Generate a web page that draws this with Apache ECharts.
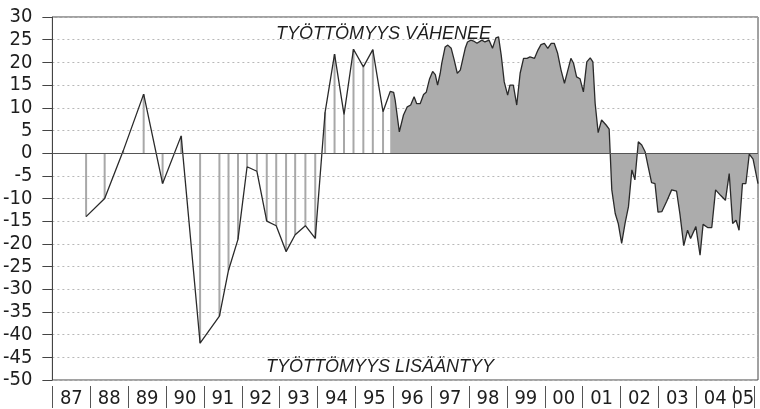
<!DOCTYPE html>
<html>
<head>
<meta charset="utf-8">
<script src="https://cdn.jsdelivr.net/npm/echarts@6/dist/echarts.min.js"></script>
<style>
  html, body { margin: 0; padding: 0; background: #fff; }
  #chart { width: 760px; height: 409px; }
</style>
</head>
<body>
<div id="chart"></div>
<script>
// puolivuosi- ja neljännesvuosipisteet 87-95 (pystyviivat)
const sparseYears = [1987.89, 1988.38, 1988.87, 1989.41, 1989.91, 1990.40, 1990.90, 1991.41,
  1991.65, 1991.90, 1992.14, 1992.40, 1992.66, 1992.91, 1993.17, 1993.41, 1993.68, 1993.94,
  1994.20, 1994.45, 1994.70, 1994.95, 1995.21, 1995.46, 1995.73]
const sparseValues = [-14, -10, 0.5, 13, -6.7, 3.8, -41.9, -35.9,
  -25.8, -19, -3, -4, -15, -16, -21.7, -18, -16, -18.8,
  9, 21.8, 8.5, 22.9, 19, 22.8, 9.1]

// kuukausipisteet 96-05 (täytetty alue)
const denseYears = [1995.92, 1996.01, 1996.05, 1996.16, 1996.27, 1996.37, 1996.46, 1996.55, 1996.62, 1996.71,
  1996.80, 1996.87, 1996.96, 1997.04, 1997.11, 1997.17, 1997.24, 1997.28, 1997.37, 1997.44,
  1997.53, 1997.61, 1997.69, 1997.77, 1997.84, 1997.90, 1997.96, 1998.05, 1998.12, 1998.21,
  1998.34, 1998.42, 1998.53, 1998.62, 1998.71, 1998.78, 1998.85, 1998.93, 1999.02, 1999.08,
  1999.17, 1999.26, 1999.35, 1999.44, 1999.53, 1999.61, 1999.73, 1999.82, 1999.90, 1999.99,
  2000.08, 2000.17, 2000.25, 2000.34, 2000.43, 2000.52, 2000.61, 2000.69, 2000.76, 2000.84,
  2000.93, 2001.02, 2001.11, 2001.20, 2001.27, 2001.33, 2001.41, 2001.50, 2001.62, 2001.70,
  2001.77, 2001.86, 2001.94, 2002.03, 2002.12, 2002.21, 2002.30, 2002.38, 2002.47, 2002.56,
  2002.65, 2002.73, 2002.82, 2002.91, 2002.99, 2003.09, 2003.22, 2003.35, 2003.48, 2003.57,
  2003.67, 2003.77, 2003.85, 2003.99, 2004.10, 2004.18, 2004.30, 2004.41, 2004.51, 2004.64,
  2004.77, 2004.87, 2004.96, 2005.05, 2005.13, 2005.22, 2005.31, 2005.40, 2005.50, 2005.63]
const denseValues = [13.6, 13.4, 11.7, 4.7, 8.4, 10.2, 10.6, 12.4, 10.9, 10.9,
  12.9, 13.4, 16.4, 18, 17.3, 15, 17.6, 19.8, 23.4, 23.8,
  23.1, 20.5, 17.6, 18.3, 20.9, 23.1, 24.5, 24.9, 24.7, 24.2,
  24.9, 24.5, 24.9, 23.1, 25.4, 25.6, 21.6, 15.7, 12.8, 15,
  15, 10.6, 17.6, 20.9, 20.9, 21.2, 20.9, 22.7, 23.9, 24.2,
  23.1, 24.2, 24.2, 22, 18.3, 15.4, 18.3, 20.9, 19.8, 16.8,
  16.4, 13.5, 20.1, 21, 20.1, 11, 4.5, 7.3, 6.2, 5.3,
  -8.1, -13.3, -15.5, -19.9, -15.5, -11.8, -3.7, -5.9, 2.5, 1.8,
  0.3, -3, -6.5, -6.7, -13, -12.9, -10.6, -8.1, -8.4, -13.5,
  -20.4, -17, -18.8, -16.2, -22.5, -15.7, -16.4, -16.4, -8.1, -9.3,
  -10.4, -4.5, -15.5, -14.8, -17, -6.7, -6.7, -0.2, -1.3, -6.7]

// vuosierottimet ja vuosinimikkeiden paikat
const yearTicks = [1987, 1988, 1989, 1990, 1991, 1992, 1993, 1994, 1995, 1996, 1997, 1998,
  1999, 2000, 2001, 2002, 2003, 2004, 2005, 2005.52]
const yearLabelPos = [1987.5, 1988.5, 1989.5, 1990.5, 1991.5, 1992.5, 1993.5, 1994.5, 1995.5,
  1996.5, 1997.5, 1998.5, 1999.5, 2000.5, 2001.5, 2002.5, 2003.5, 2004.5, 2005.23]

const xMin = 1987
const xMax = 2005.63
const numFont = '"Liberation Sans Narrow", "DejaVu Sans Condensed", sans-serif'
const textFont = '"Liberation Sans", Arial, sans-serif'

const sparseData = sparseYears.map((x, i) => [x, sparseValues[i]])
const denseData = denseYears.map((x, i) => [x, denseValues[i]])

const myChart = echarts.init(document.getElementById('chart'))
let option = {
  animation: false,
  grid: {
    left: 52,
    right: 2,
    top: 17,
    bottom: 29,
    show: true,
    borderColor: '#444',
    borderWidth: 1
  },
  xAxis: [
    {
      type: 'value',
      min: xMin,
      max: xMax,
      axisLine: { show: false },
      axisTick: { show: false },
      axisLabel: { show: false },
      splitLine: { show: false }
    },
    {
      type: 'value',
      min: xMin,
      max: xMax,
      position: 'bottom',
      offset: 6,
      axisLine: { show: false },
      splitLine: { show: false },
      axisTick: {
        show: true,
        length: 22,
        customValues: yearTicks,
        lineStyle: { color: '#555', width: 1 }
      },
      axisLabel: {
        show: true,
        customValues: yearLabelPos,
        margin: 3,
        fontFamily: numFont,
        fontSize: 20,
        color: '#1e1e1e',
        formatter: v => String(Math.floor(v) % 100).padStart(2, '0')
      }
    }
  ],
  yAxis: {
    type: 'value',
    min: -50,
    max: 30,
    interval: 5,
    axisLine: { show: true, lineStyle: { color: '#444', width: 1 } },
    axisTick: { show: true, length: 10, lineStyle: { color: '#444' } },
    axisLabel: {
      margin: 20,
      fontFamily: numFont,
      fontSize: 20,
      color: '#1e1e1e'
    },
    splitLine: {
      show: true,
      lineStyle: { color: '#b8b8b8', type: [2, 3], width: 1 }
    }
  },
  graphic: [
    {
      type: 'text',
      left: 276,
      top: 25,
      style: {
        text: 'TYÖTTÖMYYS VÄHENEE',
        font: 'italic 18px ' + textFont,
        fill: '#1e1e1e'
      }
    },
    {
      type: 'text',
      left: 266,
      top: 358,
      style: {
        text: 'TYÖTTÖMYYS LISÄÄNTYY',
        font: 'italic 18px ' + textFont,
        fill: '#1e1e1e'
      }
    }
  ],
  series: [
    {
      type: 'bar',
      data: sparseData,
      barWidth: 2,
      itemStyle: { color: '#a8a8a8' },
      silent: true
    },
    {
      type: 'line',
      data: denseData,
      showSymbol: false,
      lineStyle: { width: 0 },
      areaStyle: { color: '#acacac', opacity: 1 },
      silent: true
    },
    {
      type: 'line',
      data: sparseData.concat(denseData),
      showSymbol: false,
      lineStyle: { color: '#2a2a2a', width: 1.3 },
      silent: true,
      markLine: {
        silent: true,
        symbol: 'none',
        label: { show: false },
        lineStyle: { color: '#555', type: 'solid', width: 1.2 },
        data: [{ yAxis: 0 }]
      }
    }
  ]
}
myChart.setOption(option)
</script>
</body>
</html>
